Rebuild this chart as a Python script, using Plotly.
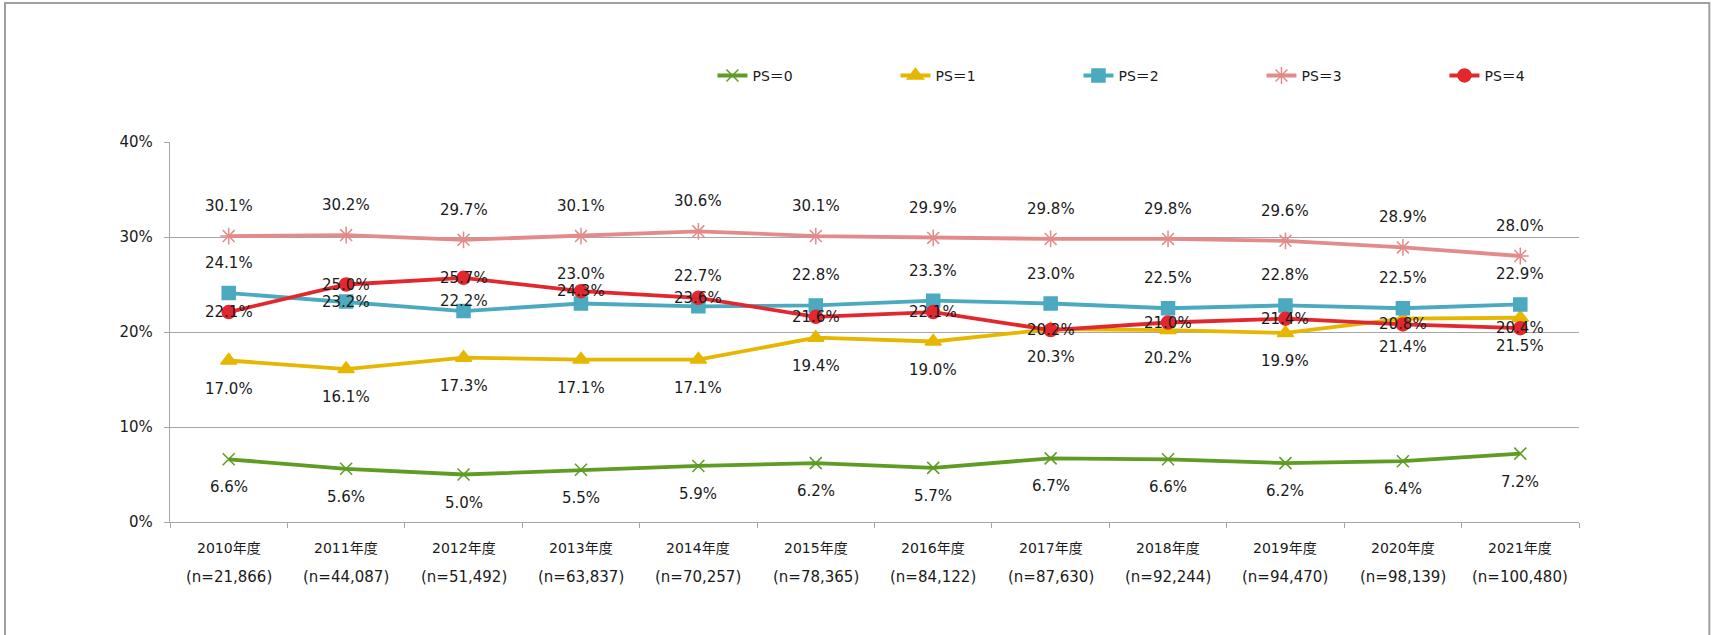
import plotly.graph_objects as go

# Fiscal years and cohort sizes
years = ["2010年度", "2011年度", "2012年度", "2013年度", "2014年度", "2015年度",
         "2016年度", "2017年度", "2018年度", "2019年度", "2020年度", "2021年度"]
counts = ["(n=21,866)", "(n=44,087)", "(n=51,492)", "(n=63,837)", "(n=70,257)", "(n=78,365)",
          "(n=84,122)", "(n=87,630)", "(n=92,244)", "(n=94,470)", "(n=98,139)", "(n=100,480)"]

# Share of patients by performance status (%)
ps0 = [6.6, 5.6, 5.0, 5.5, 5.9, 6.2, 5.7, 6.7, 6.6, 6.2, 6.4, 7.2]
ps1 = [17.0, 16.1, 17.3, 17.1, 17.1, 19.4, 19.0, 20.3, 20.2, 19.9, 21.4, 21.5]
ps2 = [24.1, 23.2, 22.2, 23.0, 22.7, 22.8, 23.3, 23.0, 22.5, 22.8, 22.5, 22.9]
ps3 = [30.1, 30.2, 29.7, 30.1, 30.6, 30.1, 29.9, 29.8, 29.8, 29.6, 28.9, 28.0]
ps4 = [22.1, 25.0, 25.7, 24.3, 23.6, 21.6, 22.1, 20.2, 21.0, 21.4, 20.8, 20.4]

FONT = "DejaVu Sans, Noto Sans CJK JP, sans-serif"
GRID = "#a6a6a6"

# name, values, colour, marker symbol, marker size, label shift (px)
series = [
    ("PS＝0", ps0, "#5e9c24", "x-thin-open", 12, -28),
    ("PS＝1", ps1, "#e6b700", "triangle-up", 14, -28),
    ("PS＝2", ps2, "#4ba9c0", "square", 13, 30),
    ("PS＝3", ps3, "#e38b8b", "asterisk-open", 14, 30),
    ("PS＝4", ps4, "#e2282e", "circle", 13, 0),
]

# individually nudged value labels: (series name, point index) -> shift in px
label_shift_override = {("PS＝2", 1): 0, ("PS＝2", 2): 10}

fig = go.Figure()
annotations = []
for name, vals, color, symbol, msize, shift in series:
    fig.add_trace(go.Scatter(
        x=years, y=vals, name=name, mode="lines+markers",
        line=dict(color=color, width=3.8),
        marker=dict(symbol=symbol, size=msize, color=color,
                    line=dict(color=color, width=1.5)),
        hoverinfo="x+y+name",
    ))
    for i, (x, v) in enumerate(zip(years, vals)):
        annotations.append(dict(
            x=x, y=v, xref="x", yref="y", text=f"{v:.1f}%", showarrow=False,
            yshift=label_shift_override.get((name, i), shift),
            font=dict(family=FONT, size=15, color="#1a1a1a"),
        ))

# two-row category labels under the axis
for x, yr, n in zip(years, years, counts):
    annotations.append(dict(x=x, y=0, xref="x", yref="paper", text=yr, showarrow=False,
                            yanchor="middle", yshift=-26,
                            font=dict(family=FONT, size=14, color="#1a1a1a")))
    annotations.append(dict(x=x, y=0, xref="x", yref="paper", text=n, showarrow=False,
                            yanchor="middle", yshift=-55,
                            font=dict(family=FONT, size=15, color="#1a1a1a")))

fig.update_layout(
    width=1712, height=635,
    margin=dict(l=170, r=133, t=142, b=113),
    paper_bgcolor="white", plot_bgcolor="white",
    font=dict(family=FONT, size=15, color="#1a1a1a"),
    showlegend=True,
    legend=dict(
        orientation="h", x=0.385, y=1.174, xanchor="left", yanchor="middle",
        entrywidth=138, entrywidthmode="pixels",
        font=dict(family=FONT, size=14, color="#1a1a1a"),
        bgcolor="rgba(0,0,0,0)",
    ),
    annotations=annotations,
    shapes=[dict(type="rect", xref="paper", yref="paper",
                 x0=-0.1171, x1=1.0925, y0=-0.40, y1=1.3658,
                 line=dict(color="#a0a0a0", width=2), fillcolor="rgba(0,0,0,0)",
                 layer="below")],
)

fig.update_xaxes(
    type="category", showgrid=False, showticklabels=False,
    showline=True, linecolor=GRID, linewidth=1.3,
    ticks="outside", tickson="boundaries", ticklen=5, tickcolor=GRID, tickwidth=1.3,
    range=[-0.5, len(years) - 0.5],
)
fig.update_yaxes(
    range=[0, 40], dtick=10, ticksuffix="%",
    showgrid=True, gridcolor=GRID, gridwidth=1.3,
    showline=True, linecolor=GRID, linewidth=1.3,
    ticks="outside", ticklen=5, tickcolor=GRID, tickwidth=1.3,
    ticklabelstandoff=8, zeroline=False,
    tickfont=dict(family=FONT, size=15, color="#1a1a1a"),
)

fig.write_html("out.html")
